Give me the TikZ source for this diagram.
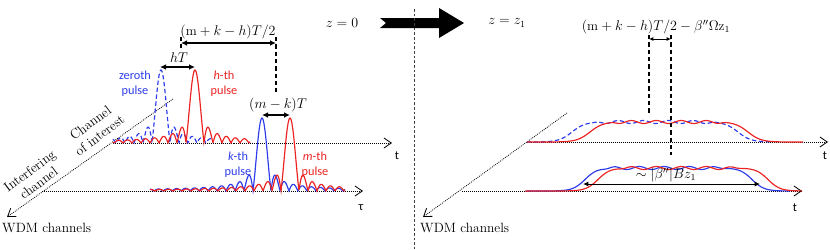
\documentclass[tikz,border=0pt]{standalone}
\usepackage{fontspec}
\newfontfamily\calibri{Carlito}
\usepackage{tikz}
\usetikzlibrary{arrows.meta,positioning}
\definecolor{pblue}{RGB}{45,60,235}
\definecolor{pred}{RGB}{235,35,35}
\tikzset{
  axis/.style={densely dotted, line width=0.7pt,
               -{Straight Barb[length=2.2mm,width=3mm,line width=0.7pt]}},
  dim/.style={{Latex[length=1.8mm,width=1.7mm]}-{Latex[length=1.8mm,width=1.7mm]},
              line width=1pt},
  guide/.style={line width=0.9pt, dash pattern=on 1.3mm off 0.9mm},
  pulse/.style={line width=1pt},
  dpulse/.style={line width=1pt, dash pattern=on 1.3mm off 0.8mm},
  lbl/.style={font=\fontsize{10.5}{12.5}\selectfont\calibri, align=center, inner sep=1pt},
  chan/.style={align=center, inner sep=1pt, rotate=37},
  declare function={snc(\u)=abs(sin(20*\u+0.01)/(pi*(20*\u+0.01)/180));
                    th(\v)=tanh(max(-5,min(5,\v)));
                    plat(\u,\a,\b,\w)=0.5*(th((\u-\a)/\w)-th((\u-\b)/\w));}
}
\begin{document}
\begin{tikzpicture}[x=0.3mm,y=-0.3mm,every node/.append style={font=\fontsize{11.5}{13}\selectfont}]
  \useasboundingbox (0,0) rectangle (830,249);

  \coordinate (ciO) at (113,143);
  \coordinate (ciT) at (392,143);
  \coordinate (icO) at (42,191);
  \coordinate (icT) at (363,191);
  \coordinate (wdmA) at (173,99);
  \coordinate (wdmB) at (7,217);
  \draw[axis] (ciO) -- (ciT);
  \draw[axis] (icO) -- (icT);
  \draw[axis] (wdmA) -- (wdmB);

  \node[chan] (coi) at (95,129) {Channel\\of interest};
  \node[chan] (ifc) at (34,177) {Interfering\\channel};
  \node[anchor=west, inner sep=0pt] (wdmL) at (2,228) {WDM channels};
  \node[lbl] (tL) at (397,156) {t};
  \node[lbl] (tauL) at (361,208) {τ};

  \draw[dpulse, pblue] plot[domain=113:212, samples=260] (\x,{143-73*snc(\x-161)});
  \draw[pulse, pred] plot[domain=113:250, samples=340] (\x,{143-73*snc(\x-195)});
  \draw[pulse, pblue] plot[domain=150:345, samples=440] (\x,{191-73*snc(\x-262)});
  \draw[pulse, pred] plot[domain=150:345, samples=440] (\x,{191-73*snc(\x-290)});

  \node[lbl, pblue] (zeroth) at (135,84) {zeroth\\pulse};
  \node[lbl, pred] (hth) at (224,84) {{\itshape h}-th\\pulse};
  \node[lbl, pblue] (kth) at (238,165) {{\itshape k}-th\\pulse};
  \node[lbl, pred] (mth) at (315,165) {{\itshape m}-th\\pulse};

  \coordinate (hTa) at (160,67);
  \coordinate (hTb) at (195,67);
  \draw[dim] (hTa) -- (hTb);
  \node (hT) at (179,58) {$hT$};

  \coordinate (g1a) at (181,37);
  \coordinate (g1b) at (181,48);
  \coordinate (g2a) at (276,37);
  \coordinate (g2b) at (276,92);
  \draw[guide] (g1a) -- (g1b);
  \draw[guide] (g2a) -- (g2b);
  \coordinate (mkha) at (181,43);
  \coordinate (mkhb) at (276,43);
  \draw[dim] (mkha) -- (mkhb);
  \node (mkh) at (228,32) {$(\mathrm{m}+k-h)T/2$};

  \coordinate (mka) at (262,115);
  \coordinate (mkb) at (290,115);
  \draw[dim] (mka) -- (mkb);
  \node (mk) at (278,105) {$(m-k)T$};

  \node (z0) at (342,23) {$z=0$};
  \fill (380,18) -- (439,18) -- (439,8) -- (464,23) -- (439,38) -- (439,28)
        -- (380,28) -- (386,23) -- cycle;
  \node (z1) at (507,23) {$z=z_1$};
  \draw[black!75, dash pattern=on 0.8mm off 0.6mm, line width=0.7pt] (414,9) -- (414,249);

  \coordinate (ciO2) at (527,142);
  \coordinate (ciT2) at (828,142);
  \coordinate (icO2) at (462,191);
  \coordinate (icT2) at (802,191);
  \coordinate (wdmC) at (567,113);
  \coordinate (wdmD) at (423,217);
  \draw[axis] (ciO2) -- (ciT2);
  \draw[axis] (icO2) -- (icT2);
  \draw[axis] (wdmC) -- (wdmD);

  \node[anchor=west, inner sep=0pt] (wdmR) at (420,228) {WDM channels};
  \node[lbl] (tR1) at (825,156) {t};
  \node[lbl] (tR2) at (795,208) {t};

  \draw[dpulse, pblue] plot[domain=527:770, samples=200]
    (\x,{142-20*plat(\x,572,738,13)-1.5*sin(14.4*(\x-612))*plat(\x,600,713,6)});
  \draw[pulse, pred] plot[domain=527:803, samples=220]
    (\x,{142-20*plat(\x,590,748,13)-1.5*sin(14.4*(\x-600))*plat(\x,615,722,6)});
  \draw[pulse, pblue] plot[domain=527:790, samples=220]
    (\x,{191-23*plat(\x,585,752,12)-1.5*sin(14.4*(\x-608))*plat(\x,607,720,6)});
  \draw[pulse, pred] plot[domain=525:802, samples=220]
    (\x,{191-23*plat(\x,598,768,12)-1.5*sin(14.4*(\x-625))*plat(\x,623,735,6)});

  \coordinate (d1a) at (649,35);
  \coordinate (d1b) at (649,114);
  \coordinate (d2a) at (671,35);
  \coordinate (d2b) at (671,155);
  \draw[guide] (d1a) -- (d1b);
  \draw[guide] (d2a) -- (d2b);
  \coordinate (sha) at (649,39);
  \coordinate (shb) at (671,39);
  \draw[{Latex[length=1.3mm,width=1.2mm]}-{Latex[length=1.3mm,width=1.2mm]}, line width=0.8pt] (sha) -- (shb);
  \node (shift) at (656,27) {$(\mathrm{m}+k-h)T/2-\beta''\Omega\mathrm{z}_1$};

  \coordinate (bwa) at (583,184);
  \coordinate (bwb) at (760,184);
  \draw[{Latex[length=1.6mm,width=1.5mm]}-{Latex[length=1.6mm,width=1.5mm]}, line width=0.8pt] (bwa) -- (bwb);
  \node[inner sep=1pt] (bw) at (666,175) {$\sim|\beta''|Bz_1$};
\end{tikzpicture}
\end{document}
